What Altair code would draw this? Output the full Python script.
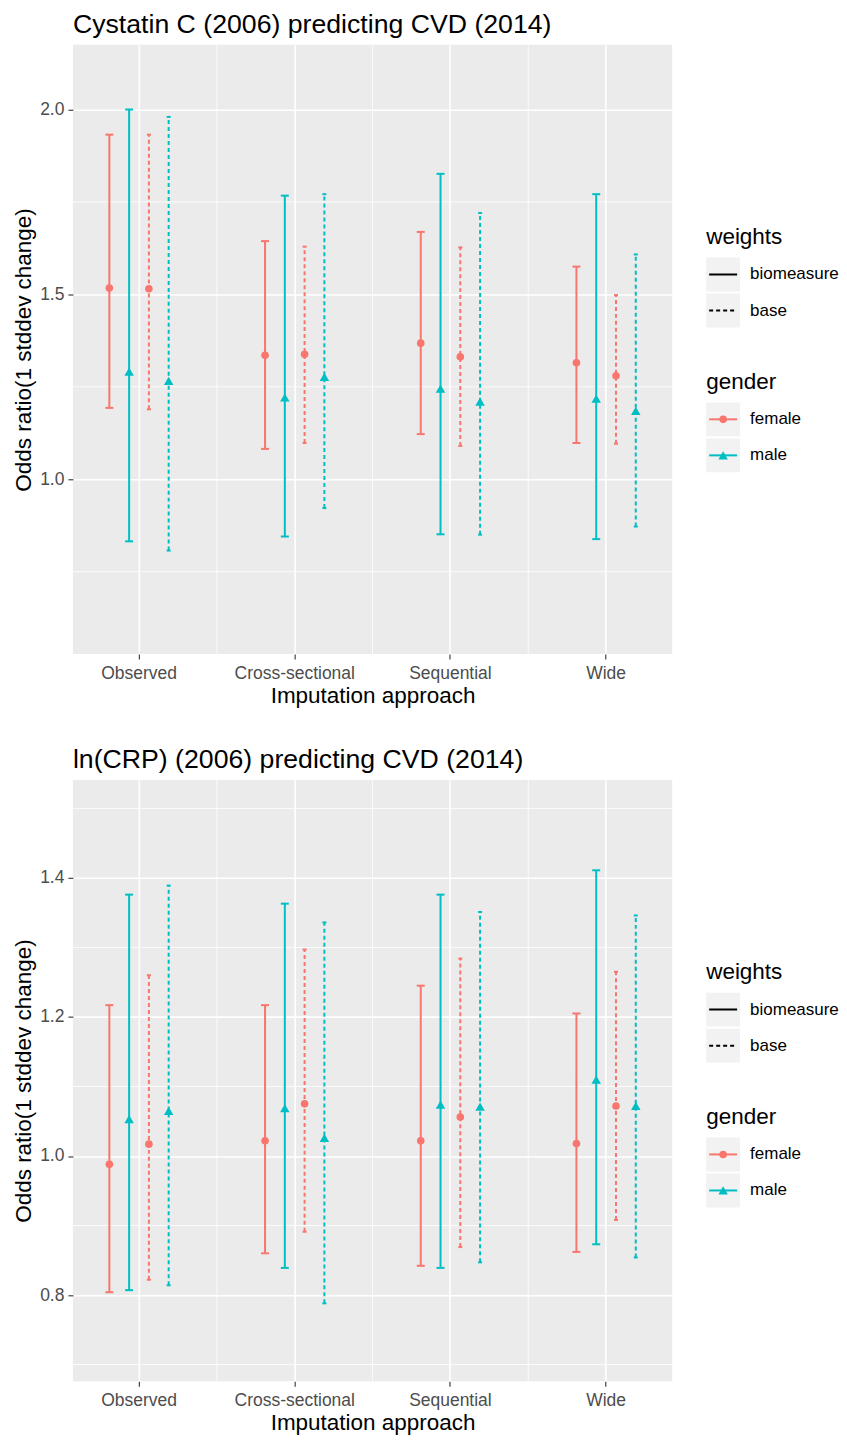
import altair as alt
import pandas as pd

APPROACHES = ["Observed", "Cross-sectional", "Sequential", "Wide"]
WEIGHTS = ["biomeasure", "base"]
GENDERS = ["female", "male"]
GROUPS = ["biomeasure|female", "biomeasure|male", "base|female", "base|male"]

# order inside each approach: biomeasure-female, biomeasure-male, base-female, base-male
CYS_EST = [1.517, 1.291, 1.515, 1.266,
           1.335, 1.221, 1.338, 1.277,
           1.368, 1.245, 1.331, 1.210,
           1.315, 1.218, 1.280, 1.185]
CYS_LO = [1.193, 0.832, 1.189, 0.807,
          1.082, 0.845, 1.098, 0.922,
          1.122, 0.851, 1.090, 0.850,
          1.098, 0.838, 1.096, 0.872]
CYS_HI = [1.932, 2.000, 1.932, 1.980,
          1.644, 1.767, 1.629, 1.771,
          1.669, 1.826, 1.627, 1.720,
          1.575, 1.771, 1.498, 1.608]

CRP_EST = [0.988, 1.053, 1.017, 1.065,
           1.022, 1.069, 1.075, 1.026,
           1.022, 1.074, 1.056, 1.071,
           1.018, 1.110, 1.072, 1.072]
CRP_LO = [0.804, 0.807, 0.822, 0.814,
          0.860, 0.839, 0.891, 0.788,
          0.842, 0.839, 0.869, 0.847,
          0.862, 0.873, 0.908, 0.854]
CRP_HI = [1.217, 1.376, 1.260, 1.389,
          1.217, 1.363, 1.297, 1.336,
          1.245, 1.376, 1.284, 1.351,
          1.205, 1.411, 1.265, 1.346]

CYS_DOMAIN = [0.527, 2.175]
CYS_MAJOR = [1.0, 1.5, 2.0]
CYS_MINOR = [0.75, 1.25, 1.75]
CRP_DOMAIN = [0.676, 1.541]
CRP_MAJOR = [0.8, 1.0, 1.2, 1.4]
CRP_MINOR = [0.7, 0.9, 1.1, 1.3, 1.5]

RED = "#F8766D"
TEAL = "#00BFC4"
FONT = "Liberation Sans"
W = 600
PAD_INNER = 0.151


def make_df(est, lo, hi):
    rows = []
    i = 0
    for a in APPROACHES:
        for g in GROUPS:
            w, s = g.split("|")
            rows.append({"approach": a, "weights": w, "gender": s, "grp": g,
                         "est": est[i], "lo": lo[i], "hi": hi[i]})
            i += 1
    return pd.DataFrame(rows)


def make_panel(title, est, lo, hi, domain, major, minor, height):
    df = make_df(est, lo, hi)
    step = W / (len(APPROACHES) - PAD_INNER)
    bw = step * (1 - PAD_INNER)
    xscale = alt.Scale(domain=APPROACHES, paddingInner=PAD_INNER, paddingOuter=0)
    xaxis = alt.Axis(title="Imputation approach", labelAngle=0, labelPadding=5,
                     titlePadding=3, grid=True)
    yscale = alt.Scale(domain=domain, nice=False, zero=False)
    yaxis = alt.Axis(title="Odds ratio(1 stddev change)", values=major, format=".1f",
                     labelPadding=4, titlePadding=4, grid=True)
    sub = 19.8
    xo = alt.XOffset("grp:N", scale=alt.Scale(domain=GROUPS,
                                              range=[bw / 2 - 2 * sub, bw / 2 + 2 * sub],
                                              paddingOuter=0, paddingInner=0))
    color = alt.Color("gender:N", scale=alt.Scale(domain=GENDERS, range=[RED, TEAL]), legend=None)
    dash = alt.StrokeDash("weights:N", scale=alt.Scale(domain=WEIGHTS, range=[[1, 0], [4, 3]]),
                          legend=None)
    x = alt.X("approach:N", scale=xscale, axis=xaxis)

    minor_x = alt.Chart(pd.DataFrame({"approach": APPROACHES})).mark_rule(
        color="white", strokeWidth=0.8, clip=True, xOffset=step * PAD_INNER / 2
    ).encode(x=alt.X("approach:N", scale=xscale, axis=xaxis, bandPosition=1))
    minor_y = alt.Chart(pd.DataFrame({"v": minor})).mark_rule(
        color="white", strokeWidth=0.8, clip=True
    ).encode(y=alt.Y("v:Q", scale=yscale, axis=yaxis))

    base = alt.Chart(df)
    bars = base.mark_rule(strokeWidth=2).encode(
        x=x, xOffset=xo,
        y=alt.Y("lo:Q", scale=yscale, axis=yaxis), y2="hi:Q",
        color=color, strokeDash=dash)
    solid = base.transform_filter(alt.datum.weights == "biomeasure")
    dashed = base.transform_filter(alt.datum.weights == "base")
    caps = []
    for fld in ["lo", "hi"]:
        caps.append(solid.mark_tick(size=8, thickness=2, opacity=1).encode(
            x=x, xOffset=xo, y=alt.Y(f"{fld}:Q", scale=yscale, axis=yaxis), color=color))
        caps.append(dashed.mark_tick(size=4, thickness=2, opacity=1, xOffset=-2).encode(
            x=x, xOffset=xo, y=alt.Y(f"{fld}:Q", scale=yscale, axis=yaxis), color=color))
    pts = base.mark_point(filled=True, opacity=1).encode(
        x=x, xOffset=xo, y=alt.Y("est:Q", scale=yscale, axis=yaxis), color=color,
        shape=alt.Shape("gender:N", scale=alt.Scale(domain=GENDERS, range=["circle", "triangle-up"]),
                        legend=None),
        size=alt.Size("gender:N", scale=alt.Scale(domain=GENDERS, range=[58, 90]), legend=None))
    return alt.layer(minor_x, minor_y, bars, *caps, pts).properties(
        width=W, height=height,
        title=alt.Title(title, anchor="start", frame="group", fontSize=26.7, font=FONT,
                        fontWeight="normal", color="black", offset=6),
        view=alt.ViewBackground(fill="#EBEBEB", stroke=None),
    )


def legend_block(title, items, kind):
    df = pd.DataFrame({"label": items})
    yenc = alt.Y("label:N", scale=alt.Scale(domain=items, paddingInner=0.06, paddingOuter=0),
                 axis=None)
    base = alt.Chart(df)
    keys = base.mark_rect(fill="#F2F2F2").encode(y=yenc, x=alt.value(0), x2=alt.value(34))
    labels = base.mark_text(align="left", baseline="middle", fontSize=17, font=FONT,
                            color="black").encode(y=yenc, x=alt.value(44), text="label:N")
    if kind == "weights":
        line = base.mark_rule(strokeWidth=2, color="black").encode(
            y=yenc, x=alt.value(3), x2=alt.value(31),
            strokeDash=alt.StrokeDash("label:N", scale=alt.Scale(domain=WEIGHTS,
                                                                 range=[[1, 0], [4, 3]]),
                                      legend=None))
        layers = [keys, line, labels]
    else:
        col = alt.Color("label:N", scale=alt.Scale(domain=GENDERS, range=[RED, TEAL]), legend=None)
        line = base.mark_rule(strokeWidth=2).encode(
            y=yenc, x=alt.value(3), x2=alt.value(31), color=col)
        pt = base.mark_point(filled=True, opacity=1).encode(
            y=yenc, x=alt.value(17), color=col,
            shape=alt.Shape("label:N", scale=alt.Scale(domain=GENDERS,
                                                       range=["circle", "triangle-up"]),
                            legend=None),
            size=alt.Size("label:N", scale=alt.Scale(domain=GENDERS, range=[58, 90]),
                          legend=None))
        layers = [keys, line, pt, labels]
    return alt.layer(*layers).properties(
        width=120, height=70,
        title=alt.Title(title, anchor="start", fontSize=22.5, font=FONT, fontWeight="normal",
                        color="black", offset=9),
    )


def legend_col():
    spacer = alt.Chart(pd.DataFrame({"s": [0]})).mark_point(opacity=0, size=1).properties(
        width=120, height=181)
    return alt.vconcat(spacer,
                       alt.vconcat(legend_block("weights", WEIGHTS, "weights"),
                                   legend_block("gender", GENDERS, "gender"),
                                   spacing=43),
                       spacing=0)


top = alt.hconcat(
    make_panel("Cystatin C (2006) predicting CVD (2014)", CYS_EST, CYS_LO, CYS_HI,
               CYS_DOMAIN, CYS_MAJOR, CYS_MINOR, 610),
    legend_col(), spacing=34)
bottom = alt.hconcat(
    make_panel("ln(CRP) (2006) predicting CVD (2014)", CRP_EST, CRP_LO, CRP_HI,
               CRP_DOMAIN, CRP_MAJOR, CRP_MINOR, 602),
    legend_col(), spacing=34)

chart = alt.vconcat(top, bottom, spacing=40).properties(
    padding={"left": 4, "top": 3, "right": 0, "bottom": 0}
).configure_view(stroke=None).configure_axis(
    labelFont=FONT, labelFontSize=17.5, labelColor="#4D4D4D",
    titleFont=FONT, titleFontSize=22.5, titleFontWeight="normal", titleColor="black",
    tickColor="#333333", tickSize=5, tickWidth=1.1, domain=False,
    gridColor="white", gridWidth=1.6,
).configure_title(font=FONT)

chart.save("out.html", embed_options={"renderer": "svg", "actions": False})
